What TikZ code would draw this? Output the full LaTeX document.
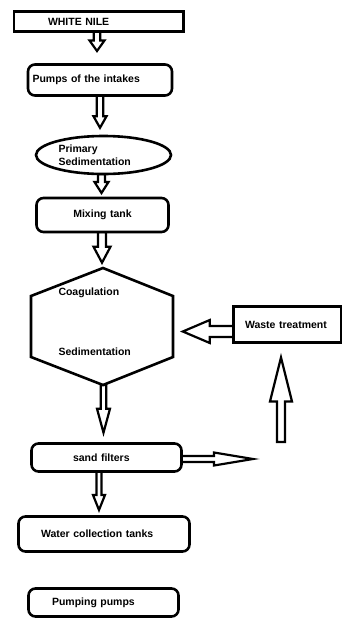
\documentclass[tikz,border=0pt]{standalone}
\usepackage{fontspec}
\setmainfont{Liberation Sans}
\usetikzlibrary{calc,shapes.geometric}
\newcommand\lblfont{\fontsize{10.5}{13}\selectfont\bfseries}
% #1 start, #2 tip, #3 shaft half width, #4 head half width, #5 head length
\newcommand\blockarrow[5]{%
  \coordinate (bab) at ($(#2)!#5pt!(#1)$);
  \draw[blockarr] ($(#1)!#3pt!90:(#2)$) -- ($(bab)!#3pt!90:(#2)$) -- ($(bab)!#4pt!90:(#2)$) -- (#2)
    -- ($(bab)!#4pt!-90:(#2)$) -- ($(bab)!#3pt!-90:(#2)$) -- ($(#1)!#3pt!-90:(#2)$) -- cycle;}
\begin{document}
\begin{tikzpicture}[x=1pt,y=-1pt,
  blockarr/.style={draw, line width=2.2pt, fill=white, line join=miter},
  boxbase/.style={draw, line width=2.6pt, fill=white, font=\lblfont, align=left,
    inner xsep=0pt, inner ysep=0pt, outer sep=0pt, anchor=north west},
  sqbox/.style={boxbase},
  rbox/.style={boxbase, rounded corners=7pt},
  txt/.style={font=\lblfont, inner sep=0pt, anchor=west}]
\useasboundingbox (0,0) rectangle (343,619);
\clip (0,0) rectangle (343,619);

% connector end points
\coordinate (a1s) at (97,31.5);   \coordinate (a1e) at (97,51);
\coordinate (a2s) at (100,95.5);  \coordinate (a2e) at (100,127.8);
\coordinate (a3s) at (101.5,174); \coordinate (a3e) at (101.5,193);
\coordinate (a4s) at (102,232);   \coordinate (a4e) at (102,262.7);
\coordinate (a5s) at (103.5,385); \coordinate (a5e) at (103.5,432.7);
\coordinate (a6s) at (233.5,331.5); \coordinate (a6e) at (182.8,331.5);
\coordinate (a7s) at (281,442);   \coordinate (a7e) at (281,357.5);
\coordinate (a8s) at (181.5,459); \coordinate (a8e) at (253,459);
\coordinate (a9s) at (99,471.5);  \coordinate (a9e) at (99,510);

% block arrows
\blockarrow{a1s}{a1e}{3.2}{7.5}{10.5}
\blockarrow{a2s}{a2e}{3.3}{6.5}{11.5}
\blockarrow{a3s}{a3e}{3.5}{7}{11}
\blockarrow{a4s}{a4e}{4}{8.5}{16}
\blockarrow{a5s}{a5e}{2.8}{6.5}{24}
\blockarrow{a6s}{a6e}{5.5}{11.5}{27}
\blockarrow{a7s}{a7e}{4}{11}{44}
\blockarrow{a8s}{a8e}{3}{6.5}{39}
\blockarrow{a9s}{a9e}{2.5}{6}{15}

% boxes
\node[sqbox, minimum width=169.5pt, minimum height=20pt, text width=169.5pt] (wn) at (14,11.5) {\hspace*{34pt}WHITE NILE};
\node[rbox, minimum width=144pt, minimum height=31pt, text width=144pt] (pumps) at (28,64.5) {\hspace*{4.5pt}Pumps of the intakes};
\node[draw, ellipse, line width=2.6pt, fill=white, font=\lblfont, align=left, inner sep=0pt, outer sep=0pt,
      minimum width=135pt, minimum height=38pt, text width=90pt] (prim) at (103.5,155) {Primary\\Sedimentation};
\node[rbox, minimum width=132pt, minimum height=34pt, text width=132pt, align=center] (mix) at (36.5,198) {Mixing tank};

% hexagon
\coordinate (hT) at (103,268); \coordinate (hUL) at (31,296); \coordinate (hLL) at (31,357);
\coordinate (hB) at (103,385); \coordinate (hLR) at (173,357); \coordinate (hUR) at (173,296);
\draw[line width=2.6pt, line join=miter] (hT) -- (hUL) -- (hLL) -- (hB) -- (hLR) -- (hUR) -- cycle;
\node[txt] (coag) at (58.3,293) {Coagulation};
\node[txt] (sedi) at (58.3,352) {Sedimentation};

\node[sqbox, minimum width=107.5pt, minimum height=36pt, text width=107.5pt] (waste) at (233.5,306.5) {\hspace*{11.5pt}Waste treatment};
\node[rbox, minimum width=150pt, minimum height=28pt, text width=150pt] (sand) at (31.5,443.5) {\hspace*{41.5pt}sand filters};
\node[rbox, minimum width=171pt, minimum height=35pt, text width=171pt] (water) at (18.5,516.5) {\hspace*{22.5pt}Water collection tanks};
\node[rbox, minimum width=150pt, minimum height=28pt, text width=150pt] (pp) at (28.5,588.5) {\hspace*{23.5pt}Pumping pumps};
\end{tikzpicture}
\end{document}
